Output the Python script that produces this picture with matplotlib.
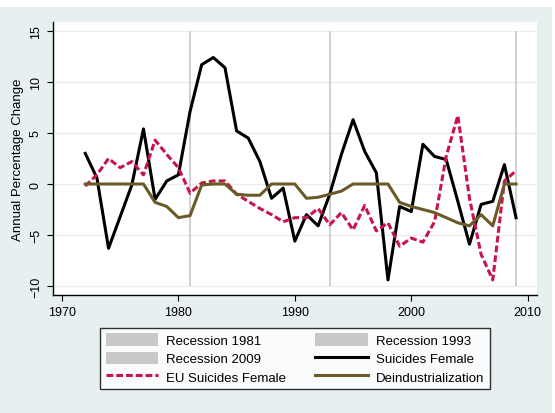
import matplotlib
matplotlib.use('Agg')
import matplotlib.pyplot as plt
from matplotlib.patches import Rectangle, Patch
from matplotlib.lines import Line2D

plt.rcParams['font.family'] = ['Liberation Sans', 'DejaVu Sans']

years = list(range(1972, 2010))
suicides_female = [3.0, 0.6, -6.3, -3.2, -0.1, 5.4, -1.5, 0.3, 0.9, 7.1,
                   11.7, 12.4, 11.4, 5.2, 4.5, 2.2, -1.4, -0.4, -5.6, -3.0,
                   -4.1, -1.0, 2.9, 6.3, 3.2, 1.1, -9.4, -2.2, -2.7, 3.9,
                   2.7, 2.4, -1.7, -5.9, -2.0, -1.7, 1.9, -3.3]
eu_suicides_female = [-0.2, 0.9, 2.5, 1.6, 2.2, 0.9, 4.3, 2.9, 1.6, -0.9,
                      0.1, 0.3, 0.3, -1.0, -1.7, -2.4, -3.0, -3.7, -3.3, -3.3,
                      -2.4, -4.0, -2.8, -4.5, -2.1, -4.6, -3.8, -6.1, -5.3, -5.7,
                      -3.7, 2.7, 6.7, -1.4, -6.9, -9.4, 0.3, 1.3]
deindustrialization = [0, 0, 0, 0, 0, 0, -1.8, -2.2, -3.3, -3.1,
                       -0.1, 0, 0, -1.0, -1.1, -1.1, 0, 0, 0, -1.4,
                       -1.3, -1.0, -0.7, 0, 0, 0, 0, -1.8, -2.2, -2.5,
                       -2.8, -3.3, -3.8, -4.1, -3.0, -4.1, 0, 0]
recessions = [1981, 1993, 2009]

bg = '#e7eff1'
red = '#c8144a'
olive = '#6b5a28'
gray = '#c8c8c8'

fig = plt.figure(figsize=(5.55, 4.14), dpi=100)
fig.patch.set_facecolor('white')
fig.patches.append(Rectangle((0, 0), 552 / 555, 406 / 414, transform=fig.transFigure,
                             facecolor=bg, edgecolor='none', zorder=-10))

ax = fig.add_axes([53 / 555, 1 - 296 / 414, (537 - 53) / 555, (296 - 23) / 414])
ax.set_facecolor('white')

for r in recessions:
    ax.vlines(r, -10, 15, color=gray, lw=1.2, zorder=1)
for t in [-10, -5, 0, 5, 10, 15]:
    ax.axhline(t, color='#ececec', lw=0.9, zorder=0)

ax.plot(years, suicides_female, color='black', lw=2.2, zorder=3)
ax.plot(years, eu_suicides_female, color=red, lw=2.2, ls=(0, (2.2, 1.0)), zorder=3)
ax.plot(years, deindustrialization, color=olive, lw=2.2, zorder=3)

ax.set_xlim(1969.23, 2010.8)
ax.set_ylim(-10.88, 15.88)
ax.set_xticks([1970, 1980, 1990, 2000, 2010])
ax.set_yticks([-10, -5, 0, 5, 10, 15])
ax.tick_params(labelsize=9, length=4, width=0.8, colors='black', pad=4)
for lab in ax.get_yticklabels():
    lab.set_rotation(90)
    lab.set_va('center')
ax.set_ylabel('Annual Percentage Change', fontsize=9.5, labelpad=4)

for s in ['top', 'right']:
    ax.spines[s].set_visible(False)
ax.spines['left'].set_linewidth(1.0)
ax.spines['bottom'].set_linewidth(1.0)

handles = [Patch(facecolor=gray, edgecolor='none'),
           Patch(facecolor=gray, edgecolor='none'),
           Line2D([], [], color=red, lw=2.2, ls=(0, (2.2, 1.0))),
           Patch(facecolor=gray, edgecolor='none'),
           Line2D([], [], color='black', lw=2.2),
           Line2D([], [], color=olive, lw=2.2)]
labels = ['Recession 1981', 'Recession 2009', 'EU Suicides Female',
          'Recession 1993', 'Suicides Female', 'Deindustrialization']
leg = fig.legend(handles, labels, ncol=2, loc='center',
                 bbox_to_anchor=(295 / 555, 1 - 359.5 / 414),
                 fontsize=9.5, frameon=True, fancybox=False,
                 edgecolor='black', handlelength=4.0, handleheight=1.1,
                 columnspacing=2.2, labelspacing=0.35, borderpad=0.4,
                 handletextpad=0.6)
leg.get_frame().set_linewidth(1.0)

fig.savefig('out.png', dpi=100, facecolor=fig.get_facecolor())
